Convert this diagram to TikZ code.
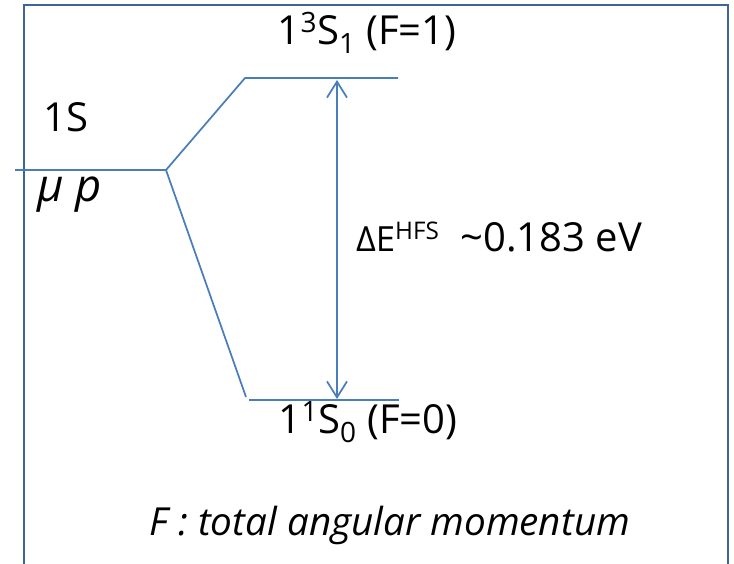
\documentclass[tikz,border=0pt]{standalone}
\usepackage{fontspec}
\setmainfont{Open Sans}
\usetikzlibrary{arrows.meta, positioning}
\definecolor{levelblue}{HTML}{4A7EBB}
\definecolor{frameblue}{HTML}{3D6597}

\begin{document}
\begin{tikzpicture}[x=0.75pt, y=-0.75pt,
    level/.style={draw=levelblue, line width=1.3pt},
    frame/.style={draw=frameblue, line width=2pt},
    lbl/.style={inner sep=0pt, font=\fontsize{30}{34}\selectfont},
    note/.style={inner sep=0pt, font=\fontsize{29}{34}\selectfont\itshape}]
    \useasboundingbox (0,0) rectangle (734,563);
    \draw[frame] (24,570) -- (24,5) -- (728,5) -- (728,570);

    % levels
    \coordinate (base) at (15,170);
    \coordinate (split) at (166,170);
    \coordinate (upL) at (245,78);
    \coordinate (upR) at (398,78);
    \coordinate (loD) at (246,397);
    \coordinate (loL) at (249,400);
    \coordinate (loR) at (399,400);
    \coordinate (arrT) at (337,80);
    \coordinate (arrB) at (337,399);

    \draw[level] (base) -- (split) -- (upL) -- (upR);
    \draw[level] (split) -- (loD);
    \draw[level] (loL) -- (loR);
    \draw[level, {Straight Barb[length=12pt, width=15pt]}-{Straight Barb[length=12pt, width=15pt]}] (arrT) -- (arrB);

    % labels
    \node[lbl] (s1) at (66,117) {1S};
    \node[lbl, font=\fontsize{34}{38}\selectfont\itshape] (mup) at (70,195) {μ p};
    \node[lbl] (trip) at (367,33) {1\textsuperscript{3}S\textsubscript{1} (F=1)};
    \node[lbl] (sing) at (368,422) {1\textsuperscript{1}S\textsubscript{0} (F=0)};
    \node[lbl] (hfs) at (499,237) {{\fontsize{26}{30}\selectfont ΔE\textsuperscript{HFS}}\ \ \textasciitilde0.183 eV};
    \node[note] (fnote) at (390,525) {F : total angular momentum};
\end{tikzpicture}
\end{document}
